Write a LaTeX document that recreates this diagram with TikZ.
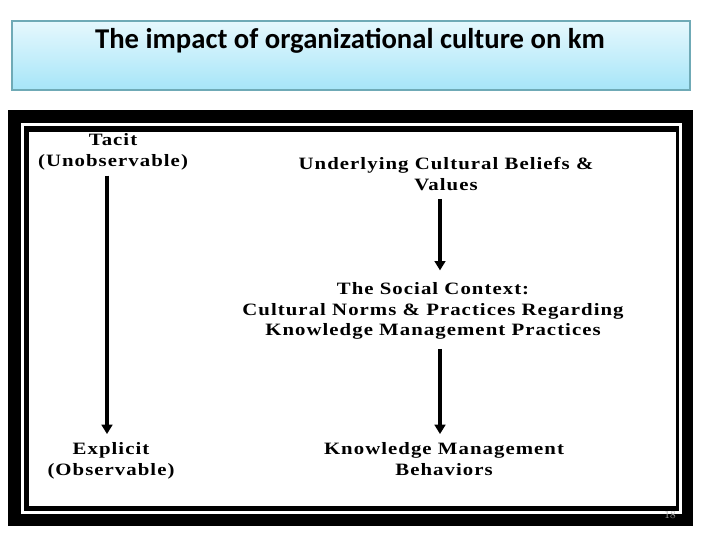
\documentclass[tikz,border=0pt]{standalone}
\usepackage{fontspec}
\usetikzlibrary{arrows.meta}
\newfontfamily\titlefont{Carlito}
\newfontfamily\diagfont[LetterSpace=5]{Liberation Serif}
\definecolor{titletop}{HTML}{E6F8FD}
\definecolor{titlebot}{HTML}{A6E5F8}
\definecolor{titleedge}{HTML}{6FAAB6}
\newcommand{\dtxt}[1]{\scalebox{1.2}[1]{\begin{tabular}{@{}c@{}}#1\end{tabular}}}
\tikzset{
  lbl/.style={inner sep=0pt, font=\diagfont\bfseries\fontsize{13}{15.5}\selectfont},
  flow/.style={line width=2.4pt, -{Triangle[width=8pt,length=7pt]}},
}
\begin{document}
\begin{tikzpicture}[x=0.75pt,y=-0.75pt]
\useasboundingbox (0,0) rectangle (720,540);
\fill[white] (0,0) rectangle (720,540);
% title box
\shade[top color=titletop, bottom color=titlebot] (12,21) rectangle (690,90);
\draw[titleedge, line width=0.8pt] (12,21) rectangle (690,90);
\node[inner sep=0pt, font=\titlefont\bfseries\fontsize{21.5}{24}\selectfont] (title) at (350,41) {The impact of organizational culture on km};
% frame
\fill[black] (8,110) rectangle (693,526);
\fill[white] (21,123) rectangle (682,514);
\fill[black] (24,126) rectangle (679,511);
\fill[white] (29,132) rectangle (676,506);
\node[inner sep=0pt, text=gray!70, font=\fontsize{8}{9}\selectfont] (pg) at (670,515) {18};
% left column
\node[lbl] (tacit) at (113,152) {\dtxt{Tacit\\(Unobservable)}};
\node[lbl] (explicit) at (111,461) {\dtxt{Explicit\\(Observable)}};
\coordinate (lx) at (107,0);
\draw[flow, shorten <=2pt, shorten >=4.5pt] (tacit.south -| lx) -- (explicit.north -| lx);
% right column
\node[lbl] (beliefs) at (446,176) {\dtxt{Underlying Cultural Beliefs \&\\Values}};
\node[lbl] (social) at (433,311) {\dtxt{The Social Context:\\Cultural Norms \& Practices Regarding\\Knowledge Management Practices}};
\node[lbl] (behav) at (444,461) {\dtxt{Knowledge Management\\Behaviors}};
\coordinate (rx) at (440,0);
\draw[flow, shorten <=1.5pt, shorten >=7pt] (beliefs.south -| rx) -- (social.north -| rx);
\draw[flow, shorten <=5pt, shorten >=4.5pt] (social.south -| rx) -- (behav.north -| rx);
\end{tikzpicture}
\end{document}
